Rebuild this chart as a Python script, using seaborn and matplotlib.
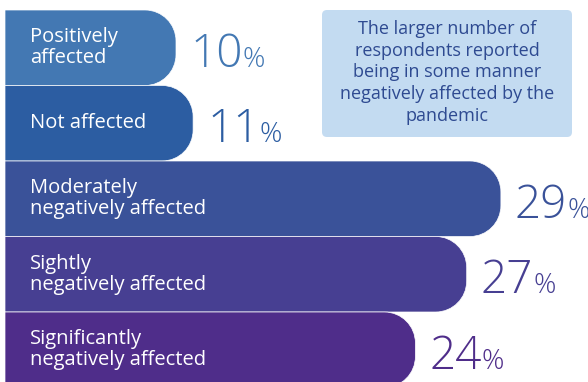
import matplotlib
matplotlib.use("Agg")
import matplotlib.pyplot as plt
import pandas as pd
import seaborn as sns
from matplotlib.path import Path
from matplotlib.patches import PathPatch, FancyBboxPatch

# Survey responses: how respondents were affected by the pandemic
categories = [
    "Positively\naffected",
    "Not affected",
    "Moderately\nnegatively affected",
    "Sightly\nnegatively affected",
    "Significantly\nnegatively affected",
]
values = [10, 11, 29, 27, 24]
bar_colors = ["#4378B3", "#2C5DA2", "#3A5299", "#473F92", "#4F2D8A"]
note_text = ("The larger number of\nrespondents reported\nbeing in some manner\n"
             "negatively affected by the\npandemic")

sns.set_theme(style="white")
plt.rcParams["font.family"] = ["Open Sans", "DejaVu Sans"]

W, H = 588, 382
fig = plt.figure(figsize=(W / 100, H / 100), dpi=100)
ax = fig.add_axes([0, 0, 1, 1])

df = pd.DataFrame({"label": categories, "pct": values})
sns.barplot(data=df, x="pct", y="label", hue="label", palette=bar_colors,
            legend=False, width=1.0, orient="h", saturation=1, ax=ax)

px_x = 17.1   # pixels per percentage point
px_y = 75.5   # pixels per bar row
ax.set_xlim(-5 / px_x, (W - 5) / px_x)
ax.set_ylim((H - 10) / px_y - 0.5, -10 / px_y - 0.5)
ax.axis("off")

# Replace the plain rectangles by bars with a rounded right end
rx, ry = 31 / px_x, 31 / px_y
k = 0.5523
codes = [Path.MOVETO, Path.LINETO, Path.CURVE4, Path.CURVE4, Path.CURVE4,
         Path.LINETO, Path.CURVE4, Path.CURVE4, Path.CURVE4, Path.LINETO,
         Path.CLOSEPOLY]
for patch in list(ax.patches):
    x0, y0 = patch.get_x(), patch.get_y()
    w, h = patch.get_width(), patch.get_height()
    x1, y1 = x0 + w, y0 + h
    verts = [(x0, y0), (x1 - rx, y0),
             (x1 - rx + k * rx, y0), (x1, y0 + ry - k * ry), (x1, y0 + ry),
             (x1, y1 - ry),
             (x1, y1 - ry + k * ry), (x1 - rx + k * rx, y1), (x1 - rx, y1),
             (x0, y1), (x0, y0)]
    ax.add_patch(PathPatch(Path(verts, codes), facecolor=patch.get_facecolor(),
                           edgecolor="white", linewidth=0.5, zorder=2))
    patch.set_visible(False)

# Category names inside the bars
for i, lab in enumerate(categories):
    ax.text(25 / px_x, i, lab, color="white", fontsize=14.5, va="center",
            ha="left", linespacing=1.08, zorder=3)

# Value labels: big number followed by a smaller percent sign
fig.canvas.draw()
renderer = fig.canvas.get_renderer()
inv = ax.transData.inverted()
for i, (v, c) in enumerate(zip(values, bar_colors)):
    yb = i + 19 / px_y
    t = ax.text(v + 14 / px_x, yb, f"{v}", fontsize=33, fontweight="light",
                color=c, va="baseline", ha="left", zorder=3)
    bb = t.get_window_extent(renderer)
    xe = inv.transform((bb.x1, bb.y0))[0]
    ax.text(xe, yb, "%", fontsize=20, fontweight="light",
            color=c, va="baseline", ha="left", zorder=3)

# Callout box
bx0, bx1 = (322 - 5) / px_x, (572 - 5) / px_x
by0, by1 = (10 - 10) / px_y - 0.5, (137 - 10) / px_y - 0.5
box = FancyBboxPatch((bx0, by0), bx1 - bx0, by1 - by0,
                     boxstyle=f"round,pad=0,rounding_size={5 / px_x}",
                     mutation_aspect=px_x / px_y,
                     facecolor="#C3DBF1", edgecolor="none", zorder=2)
ax.add_patch(box)
ax.text((bx0 + bx1) / 2, (by0 + by1) / 2 - 1 / px_y, note_text,
        color="#2E4A91", fontsize=13, ha="center", va="center",
        linespacing=1.28, zorder=3)

fig.savefig("out.png", dpi=100)
